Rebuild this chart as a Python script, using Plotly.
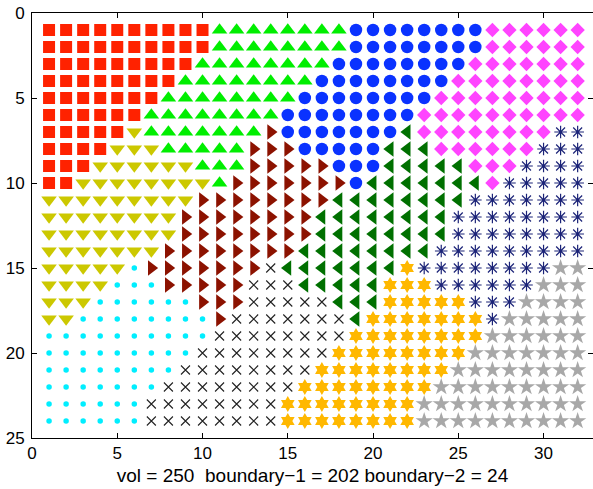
import plotly.graph_objects as go

# Class of each grid cell, row 1 (top) .. row 24 (bottom), columns 1..32
grid_rows = [
    "SSSSSSSSSSTTTTTTTTCCCCCCCCDDDDDD",
    "SSSSSSSSSSTTTTTTTTCCCCCCCCDDDDDD",
    "SSSSSSSSSTTTTTTTTCCCCCCCCDDDDDDD",
    "SSSSSSSSTTTTTTTTCCCCCCCCDDDDDDDD",
    "SSSSSSSTTTTTTTTCCCCCCCCDDDDDDDDD",
    "SSSSSSTTTTTTTTCCCCCCCCDDDDDDDDDD",
    "SSSSSVTTTTTTTRCCCCCCCLDDDDDDDDAA",
    "SSSSVVVTTTTTRRRCCCCCLLLDDDDDDAAA",
    "SSSVVVVVVTTTRRRRRCCCLLLLLDDDAAAA",
    "SSVVVVVVVVTRRRRRRRCLLLLLLLDAAAAA",
    "VVVVVVVVVRRRRRRRRLLLLLLLLAAAAAAA",
    "VVVVVVVVRRRRRRRRLLLLLLLLAAAAAAAA",
    "VVVVVVVVRRRRRRRRLLLLLLLLAAAAAAAA",
    "VVVVVVVRRRRRRRRLLLLLLLLAAAAAAAAA",
    "VVVVVPRRRRRRRXLLLLLLLHAAAAAAAAGG",
    "VVVVPPPRRRRRXXXLLLLLHHHAAAAAAGGG",
    "VVVPPPPPPRRRXXXXXLLLHHHHHAAAGGGG",
    "VVPPPPPPPPRXXXXXXXLHHHHHHHAGGGGG",
    "PPPPPPPPPPXXXXXXXXHHHHHHHHGGGGGG",
    "PPPPPPPPPXXXXXXXXHHHHHHHHGGGGGGG",
    "PPPPPPPPXXXXXXXXHHHHHHHHGGGGGGGG",
    "PPPPPPPXXXXXXXXHHHHHHHHGGGGGGGGG",
    "PPPPPPXXXXXXXXHHHHHHHHGGGGGGGGGG",
    "PPPPPPXXXXXXXXHHHHHHHHGGGGGGGGGG",
]

class_codes = ["S", "T", "C", "D", "A", "V", "R", "L", "P", "X", "H", "G"]
x_ticks = [0, 5, 10, 15, 20, 25, 30]
y_ticks = [0, 5, 10, 15, 20, 25]
xlabel_text = "vol = 250  boundary\u22121 = 202 boundary\u22122 = 24"

styles = {
    "S": dict(symbol="square", size=12, color="#FF2200"),
    "T": dict(symbol="triangle-up", size=13.5, color="#00EE00"),
    "C": dict(symbol="circle", size=12.5, color="#0A32FF"),
    "D": dict(symbol="diamond", size=11, color="#FF44FF"),
    "A": dict(symbol="asterisk-open", size=10.5, color="#1C2478", line=dict(color="#1C2478", width=1.2)),
    "V": dict(symbol="triangle-down", size=13.5, color="#CCC800"),
    "R": dict(symbol="triangle-right", size=13.5, color="#8C1200"),
    "L": dict(symbol="triangle-left", size=13.5, color="#007000"),
    "P": dict(symbol="circle", size=5.5, color="#00EEFF"),
    "X": dict(symbol="x-thin-open", size=9, color="#222222", line=dict(color="#222222", width=1.1)),
    "H": dict(symbol="hexagram", size=12, color="#FFB800"),
    "G": dict(symbol="star", size=13, color="#A8A8A8"),
}

fig = go.Figure()
for code in class_codes:
    xs, ys = [], []
    for r, row in enumerate(grid_rows, start=1):
        for c, ch in enumerate(row, start=1):
            if ch == code:
                xs.append(c)
                ys.append(r)
    st = dict(styles[code])
    mk = dict(symbol=st["symbol"], size=st["size"], color=st["color"])
    if "line" in st:
        mk["line"] = st["line"]
    else:
        mk["line"] = dict(width=0)
    fig.add_trace(go.Scatter(x=xs, y=ys, mode="markers", marker=mk, showlegend=False, hoverinfo="skip"))

font_family = "Liberation Sans, Arial, Helvetica, sans-serif"
axis_common = dict(
    showgrid=False, zeroline=False, showline=True, linecolor="black", linewidth=1,
    mirror="ticks", ticks="inside", ticklen=5, tickwidth=1, tickcolor="black",
    tickfont=dict(family=font_family, size=17, color="black"), automargin=False,
    ticklabeloverflow="allow",
)
fig.update_layout(
    width=593, height=489,
    margin=dict(l=32, r=0, t=13, b=51),
    paper_bgcolor="white", plot_bgcolor="white",
    font=dict(family=font_family, color="black"),
    xaxis=dict(range=[0, 32.9], tickvals=x_ticks, ticktext=[str(v) for v in x_ticks],
               title=dict(text=xlabel_text, font=dict(size=19), standoff=6), **axis_common),
    yaxis=dict(range=[25, 0], tickvals=y_ticks, ticktext=[str(v) for v in y_ticks],
               ticklabelstandoff=3, **axis_common),
)
# remove the default 8px page margin so the figure fills the window exactly
fig.write_html("out.html", config={"displayModeBar": False},
               post_script="document.body.style.margin='0';")
